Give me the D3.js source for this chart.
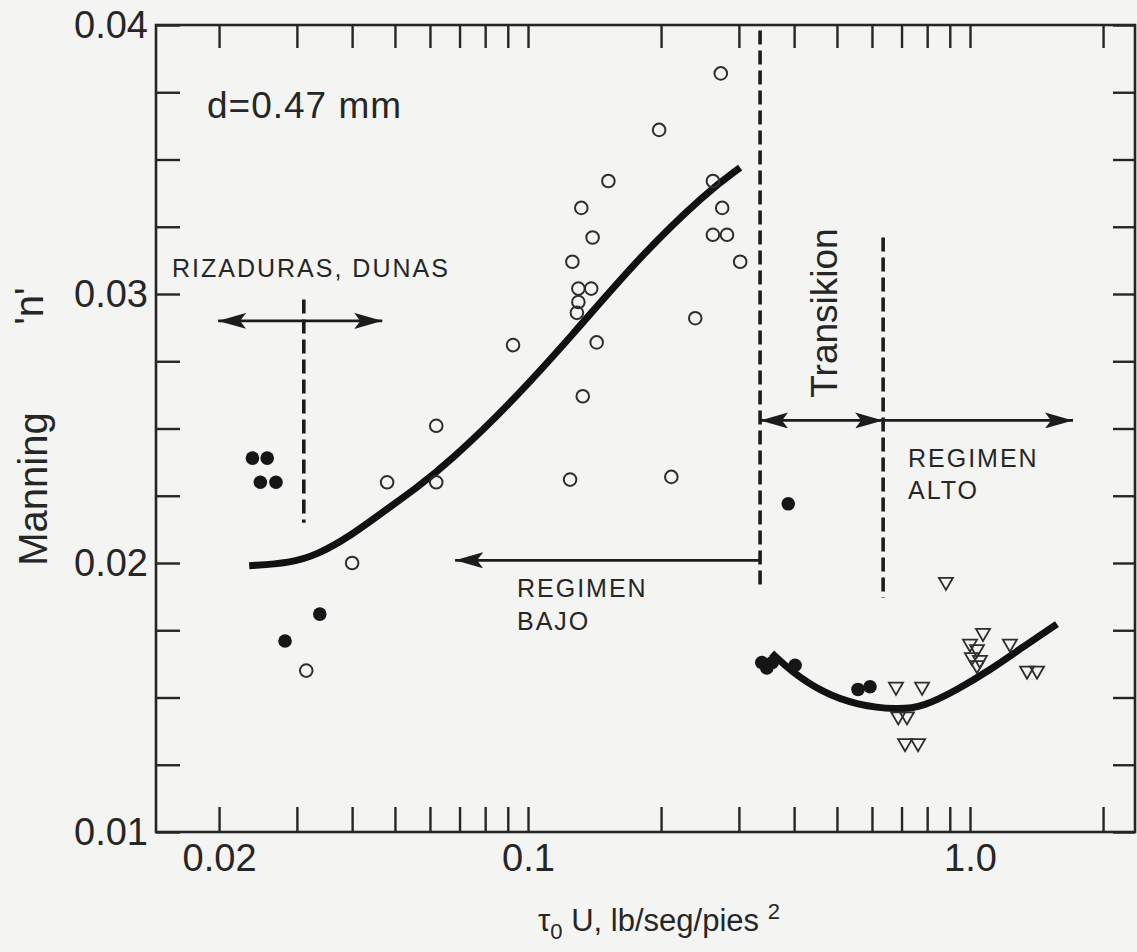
<!DOCTYPE html>
<html>
<head>
<meta charset="utf-8">
<script src="https://cdn.jsdelivr.net/npm/d3@7"></script>
<style>
  body { margin: 0; background: #f4f4f2; }
  svg { display: block; }
</style>
</head>
<body>
<script>
// Data (x = tau0*U, y = Manning n)
const openCircles = [
  [0.0315, 0.0160], [0.040, 0.0200], [0.048, 0.0230], [0.062, 0.0230], [0.062, 0.0251],
  [0.0925, 0.0281], [0.143, 0.0282], [0.133, 0.0262], [0.1245, 0.0231], [0.211, 0.0232],
  [0.239, 0.0291], [0.130, 0.0297], [0.130, 0.0302], [0.139, 0.0302], [0.129, 0.0293],
  [0.126, 0.0312], [0.302, 0.0312], [0.262, 0.0322], [0.282, 0.0322], [0.140, 0.0321],
  [0.275, 0.0332], [0.132, 0.0332], [0.262, 0.0342], [0.152, 0.0342], [0.198, 0.0361],
  [0.273, 0.0382]
];
const filledDots = [
  [0.0238, 0.0239], [0.0257, 0.0239], [0.0248, 0.0230], [0.0269, 0.0230],
  [0.0338, 0.0181], [0.0282, 0.0171], [0.388, 0.0222],
  [0.338, 0.0163], [0.357, 0.0163], [0.347, 0.0161], [0.402, 0.0162],
  [0.558, 0.0153], [0.594, 0.0154]
];
const triangles = [
  [0.882, 0.0193], [1.070, 0.0174], [1.000, 0.0170], [1.037, 0.0168], [1.010, 0.0165],
  [1.053, 0.0164], [1.037, 0.0162], [1.231, 0.0170], [1.346, 0.0160], [1.418, 0.0160],
  [0.680, 0.0154], [0.779, 0.0154], [0.688, 0.0143], [0.720, 0.0143], [0.713, 0.0133],
  [0.763, 0.0133]
];
const lowCurve = [
  [0.0234, 0.0199], [0.0290, 0.0200], [0.0333, 0.0203], [0.0396, 0.0210], [0.0470, 0.0219],
  [0.0561, 0.0228], [0.0667, 0.0238], [0.0897, 0.0258], [0.1265, 0.0285], [0.179, 0.0314],
  [0.254, 0.0338], [0.302, 0.0347]
];
const highCurve = [
  [0.356, 0.01665], [0.392, 0.0160], [0.465, 0.01517], [0.555, 0.01472], [0.684, 0.01454],
  [0.783, 0.01465], [0.934, 0.01528], [1.110, 0.01602], [1.318, 0.01688], [1.573, 0.01773]
];
const xTicks = [0.02, 0.03, 0.04, 0.05, 0.06, 0.07, 0.08, 0.09, 0.1,
  0.2, 0.3, 0.4, 0.5, 0.6, 0.7, 0.8, 0.9, 1.0, 2.0];
const xTickLabels = { 0.02: "0.02", 0.1: "0.1", 1: "1.0" };
const yTicks = [0.01, 0.0125, 0.015, 0.0175, 0.02, 0.0225, 0.025, 0.0275, 0.03, 0.0325, 0.035, 0.0375, 0.04];
const yTickLabels = [0.01, 0.02, 0.03, 0.04];

// dashed boundaries: [x, yTop, yBottom]
const boundaries = [[0.0311, 0.0298, 0.0215], [0.335, 0.0398, 0.0192], [0.636, 0.0321, 0.0187]];
// arrows: [x1, x2, y, headAtStart, headAtEnd]
const arrows = [
  [0.0199, 0.0468, 0.0290, true, true],
  [0.0684, 0.335, 0.0201, true, false],
  [0.335, 0.636, 0.0253, true, true],
  [0.636, 1.71, 0.0253, false, true]
];

const width = 1137, height = 952;
const font = "'Liberation Sans', Arial, sans-serif";
const ink = "#262626";

const x = d3.scaleLog().domain([0.0144, 2.362]).range([156, 1135]);
const y = d3.scaleLinear().domain([0.01, 0.04]).range([832, 25]);

const svg = d3.select("body").append("svg")
  .attr("width", width)
  .attr("height", height)
  .style("font-family", font);

// axes (ticks point inward)
function styleAxis(g) {
  g.select(".domain").remove();
  g.selectAll(".tick line").attr("stroke", ink).attr("stroke-width", 2.4);
  g.selectAll(".tick text").attr("fill", ink).style("font-size", "38px").style("font-family", font);
}

svg.append("g")
  .attr("transform", `translate(0,${y(0.01)})`)
  .call(d3.axisBottom(x).tickValues(xTicks).tickSizeInner(-25).tickSizeOuter(0)
    .tickPadding(12).tickFormat((d) => xTickLabels[d] || ""))
  .call(styleAxis);

svg.append("g")
  .attr("transform", `translate(0,${y(0.04)})`)
  .call(d3.axisTop(x).tickValues(xTicks).tickSizeInner(-23).tickSizeOuter(0).tickFormat(""))
  .call(styleAxis);

svg.append("g")
  .attr("transform", `translate(${x.range()[0]},0)`)
  .call(d3.axisLeft(y).tickValues(yTicks).tickSizeInner(-24).tickSizeOuter(0)
    .tickPadding(8).tickFormat((d) => yTickLabels.some((v) => Math.abs(v - d) < 1e-9) ? d3.format(".2f")(d) : ""))
  .call(styleAxis);

svg.append("g")
  .attr("transform", `translate(${x.range()[1]},0)`)
  .call(d3.axisRight(y).tickValues(yTicks).tickSizeInner(-22).tickSizeOuter(0).tickFormat(""))
  .call(styleAxis);

// frame
svg.append("rect")
  .attr("x", x.range()[0]).attr("y", y(0.04))
  .attr("width", x.range()[1] - x.range()[0])
  .attr("height", y(0.01) - y(0.04))
  .attr("fill", "none").attr("stroke", ink).attr("stroke-width", 2.6);

// dashed boundaries
svg.append("g").selectAll("line").data(boundaries).join("line")
  .attr("x1", (d) => x(d[0])).attr("x2", (d) => x(d[0]))
  .attr("y1", (d) => y(d[1])).attr("y2", (d) => y(d[2]))
  .attr("stroke", "#1c1c1c").attr("stroke-width", 3.6).attr("stroke-dasharray", "14,6");

// arrows
const defs = svg.append("defs");
defs.append("marker").attr("id", "head")
  .attr("viewBox", "0 0 28 16").attr("refX", 28).attr("refY", 8)
  .attr("markerWidth", 28).attr("markerHeight", 16)
  .attr("markerUnits", "userSpaceOnUse").attr("orient", "auto-start-reverse")
  .append("path").attr("d", "M0,0L28,8L0,16L6,8Z").attr("fill", "#1c1c1c");

svg.append("g").selectAll("line").data(arrows).join("line")
  .attr("x1", (d) => x(d[0])).attr("x2", (d) => x(d[1]))
  .attr("y1", (d) => y(d[2])).attr("y2", (d) => y(d[2]))
  .attr("stroke", "#1c1c1c").attr("stroke-width", 2.8)
  .attr("marker-start", (d) => d[3] ? "url(#head)" : null)
  .attr("marker-end", (d) => d[4] ? "url(#head)" : null);

// fitted curves
const line = d3.line().x((d) => x(d[0])).y((d) => y(d[1])).curve(d3.curveBasis);
svg.append("path").datum(lowCurve).attr("d", line)
  .attr("fill", "none").attr("stroke", "#111").attr("stroke-width", 7).attr("stroke-linecap", "butt");
svg.append("path").datum(highCurve).attr("d", line)
  .attr("fill", "none").attr("stroke", "#111").attr("stroke-width", 7).attr("stroke-linecap", "butt");

// points
svg.append("g").selectAll("circle").data(openCircles).join("circle")
  .attr("cx", (d) => x(d[0])).attr("cy", (d) => y(d[1])).attr("r", 6.3)
  .attr("fill", "none").attr("stroke", "#2e2e2e").attr("stroke-width", 2);

svg.append("g").selectAll("circle").data(filledDots).join("circle")
  .attr("cx", (d) => x(d[0])).attr("cy", (d) => y(d[1])).attr("r", 6.8)
  .attr("fill", "#161616");

svg.append("g").selectAll("path").data(triangles).join("path")
  .attr("d", d3.symbol(d3.symbolTriangle, 85))
  .attr("transform", (d) => `translate(${x(d[0])},${y(d[1])}) rotate(180)`)
  .attr("fill", "none").attr("stroke", "#2e2e2e").attr("stroke-width", 1.8);

// annotations
function label(txt, px, py, size, opts = {}) {
  const t = svg.append("text")
    .attr("transform", `translate(${px},${py})` + (opts.rotate ? ` rotate(${opts.rotate})` : ""))
    .attr("fill", ink)
    .attr("text-anchor", opts.anchor || "start")
    .style("font-size", size + "px")
    .text(txt);
  if (opts.spacing) t.style("letter-spacing", opts.spacing + "px");
  return t;
}

label("d=0.47 mm", 207, 118, 37, { spacing: 1 });
label("RIZADURAS,  DUNAS", 172, 277, 25, { spacing: 2 });
label("REGIMEN", 517, 597, 25, { spacing: 2 });
label("BAJO", 517, 630, 25, { spacing: 2 });
label("REGIMEN", 908, 467, 25, { spacing: 2 });
label("ALTO", 908, 499, 25, { spacing: 2 });
label("Transikion", 837, 313, 37, { rotate: -90, anchor: "middle" });
label("Manning", 47, 489, 40, { rotate: -90, anchor: "middle" });
label("'n'", 43, 306, 40, { rotate: -90, anchor: "middle" });

const xt = svg.append("text")
  .attr("x", 659).attr("y", 931)
  .attr("text-anchor", "middle")
  .attr("fill", ink)
  .style("font-size", "31px");
xt.append("tspan").text("τ");
xt.append("tspan").attr("dy", 8).style("font-size", "22px").text("0");
xt.append("tspan").attr("dy", -8).text(" U, lb/seg/pies ");
xt.append("tspan").attr("dy", -12).style("font-size", "22px").text("2");
</script>
</body>
</html>
